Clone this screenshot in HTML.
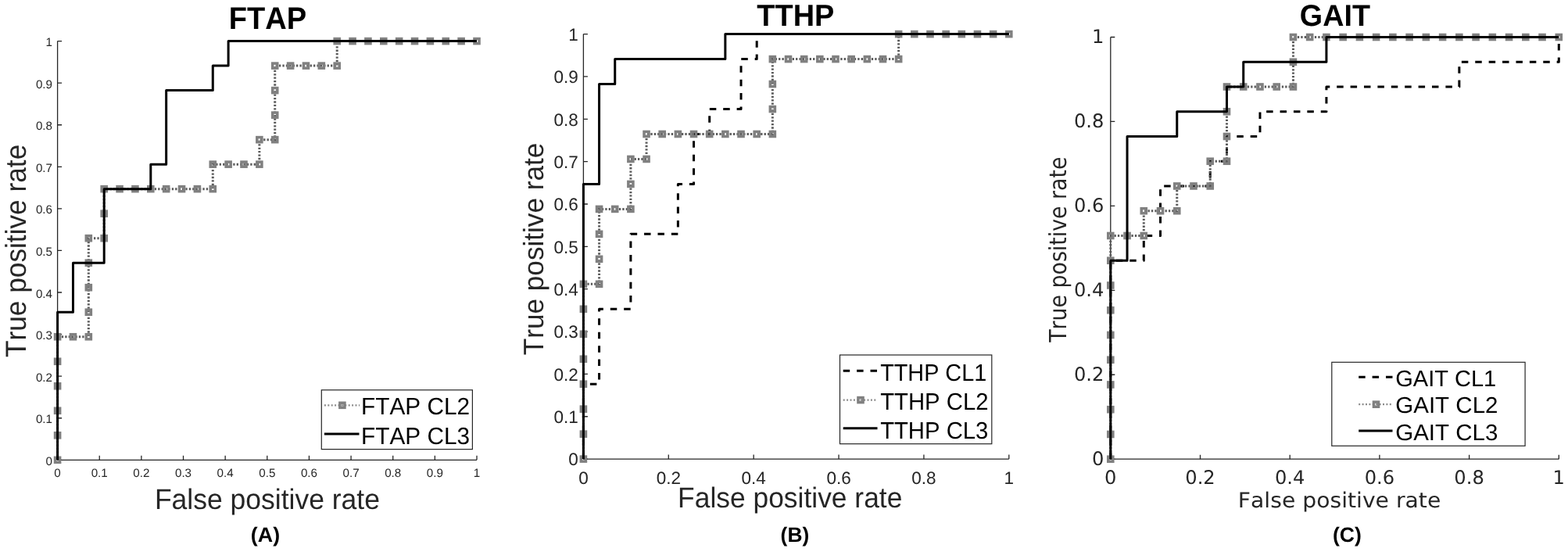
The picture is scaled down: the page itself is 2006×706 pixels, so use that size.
<!DOCTYPE html>
<html><head><meta charset="utf-8"><title>ROC curves</title>
<style>html,body{margin:0;padding:0;background:#fff;}body{width:2006px;height:706px;overflow:hidden;}svg{display:block;}text{font-kerning:none;text-rendering:geometricPrecision;}</style>
</head><body>
<svg width="2006" height="706" viewBox="0 0 2006 706">
<rect width="2006" height="706" fill="#fff"/>
<path d="M73.60 52.60 L73.60 588.30 L610.00 588.30" fill="none" stroke="#262626" stroke-width="1.3"/>
<path d="M73.60 588.30 V582.80 M127.24 588.30 V582.80 M180.88 588.30 V582.80 M234.52 588.30 V582.80 M288.16 588.30 V582.80 M341.80 588.30 V582.80 M395.44 588.30 V582.80 M449.08 588.30 V582.80 M502.72 588.30 V582.80 M556.36 588.30 V582.80 M610.00 588.30 V582.80 M73.60 588.30 H79.10 M73.60 534.73 H79.10 M73.60 481.16 H79.10 M73.60 427.59 H79.10 M73.60 374.02 H79.10 M73.60 320.45 H79.10 M73.60 266.88 H79.10 M73.60 213.31 H79.10 M73.60 159.74 H79.10 M73.60 106.17 H79.10 M73.60 52.60 H79.10" fill="none" stroke="#262626" stroke-width="1.3"/>
<text x="73.60" y="609.80" text-anchor="middle" font-family="'Liberation Sans', Arial, sans-serif" font-weight="normal" font-size="15.2" fill="#262626">0</text>
<text x="127.24" y="609.80" text-anchor="middle" font-family="'Liberation Sans', Arial, sans-serif" font-weight="normal" font-size="15.2" fill="#262626">0.1</text>
<text x="180.88" y="609.80" text-anchor="middle" font-family="'Liberation Sans', Arial, sans-serif" font-weight="normal" font-size="15.2" fill="#262626">0.2</text>
<text x="234.52" y="609.80" text-anchor="middle" font-family="'Liberation Sans', Arial, sans-serif" font-weight="normal" font-size="15.2" fill="#262626">0.3</text>
<text x="288.16" y="609.80" text-anchor="middle" font-family="'Liberation Sans', Arial, sans-serif" font-weight="normal" font-size="15.2" fill="#262626">0.4</text>
<text x="341.80" y="609.80" text-anchor="middle" font-family="'Liberation Sans', Arial, sans-serif" font-weight="normal" font-size="15.2" fill="#262626">0.5</text>
<text x="395.44" y="609.80" text-anchor="middle" font-family="'Liberation Sans', Arial, sans-serif" font-weight="normal" font-size="15.2" fill="#262626">0.6</text>
<text x="449.08" y="609.80" text-anchor="middle" font-family="'Liberation Sans', Arial, sans-serif" font-weight="normal" font-size="15.2" fill="#262626">0.7</text>
<text x="502.72" y="609.80" text-anchor="middle" font-family="'Liberation Sans', Arial, sans-serif" font-weight="normal" font-size="15.2" fill="#262626">0.8</text>
<text x="556.36" y="609.80" text-anchor="middle" font-family="'Liberation Sans', Arial, sans-serif" font-weight="normal" font-size="15.2" fill="#262626">0.9</text>
<text x="610.00" y="609.80" text-anchor="middle" font-family="'Liberation Sans', Arial, sans-serif" font-weight="normal" font-size="15.2" fill="#262626">1</text>
<text x="67.00" y="594.80" text-anchor="end" font-family="'Liberation Sans', Arial, sans-serif" font-weight="normal" font-size="15.2" fill="#262626">0</text>
<text x="67.00" y="541.23" text-anchor="end" font-family="'Liberation Sans', Arial, sans-serif" font-weight="normal" font-size="15.2" fill="#262626">0.1</text>
<text x="67.00" y="487.66" text-anchor="end" font-family="'Liberation Sans', Arial, sans-serif" font-weight="normal" font-size="15.2" fill="#262626">0.2</text>
<text x="67.00" y="434.09" text-anchor="end" font-family="'Liberation Sans', Arial, sans-serif" font-weight="normal" font-size="15.2" fill="#262626">0.3</text>
<text x="67.00" y="380.52" text-anchor="end" font-family="'Liberation Sans', Arial, sans-serif" font-weight="normal" font-size="15.2" fill="#262626">0.4</text>
<text x="67.00" y="326.95" text-anchor="end" font-family="'Liberation Sans', Arial, sans-serif" font-weight="normal" font-size="15.2" fill="#262626">0.5</text>
<text x="67.00" y="273.38" text-anchor="end" font-family="'Liberation Sans', Arial, sans-serif" font-weight="normal" font-size="15.2" fill="#262626">0.6</text>
<text x="67.00" y="219.81" text-anchor="end" font-family="'Liberation Sans', Arial, sans-serif" font-weight="normal" font-size="15.2" fill="#262626">0.7</text>
<text x="67.00" y="166.24" text-anchor="end" font-family="'Liberation Sans', Arial, sans-serif" font-weight="normal" font-size="15.2" fill="#262626">0.8</text>
<text x="67.00" y="112.67" text-anchor="end" font-family="'Liberation Sans', Arial, sans-serif" font-weight="normal" font-size="15.2" fill="#262626">0.9</text>
<text x="67.00" y="59.10" text-anchor="end" font-family="'Liberation Sans', Arial, sans-serif" font-weight="normal" font-size="15.2" fill="#262626">1</text>
<path d="M73.60 588.30 L73.60 556.79 L73.60 525.28 L73.60 493.76 L73.60 462.25 L73.60 430.74 L93.47 430.74 L113.33 430.74 L113.33 399.23 L113.33 367.72 L113.33 336.21 L113.33 304.69 L133.20 304.69 L133.20 273.18 L133.20 241.67 L153.07 241.67 L172.93 241.67 L192.80 241.67 L212.67 241.67 L232.53 241.67 L252.40 241.67 L272.27 241.67 L272.27 210.16 L292.13 210.16 L312.00 210.16 L331.87 210.16 L331.87 178.65 L351.73 178.65 L351.73 147.14 L351.73 115.62 L351.73 84.11 L371.60 84.11 L391.47 84.11 L411.33 84.11 L431.20 84.11 L431.20 52.60 L451.07 52.60 L470.93 52.60 L490.80 52.60 L510.67 52.60 L530.53 52.60 L550.40 52.60 L570.27 52.60 L590.13 52.60 L610.00 52.60" fill="none" stroke="#5a5a5a" stroke-width="3" stroke-dasharray="2.3 2.1"/>
<g fill="none" stroke="#808080" stroke-width="3.5"><rect x="70.55" y="585.25" width="6.1" height="6.1"/><rect x="70.55" y="553.74" width="6.1" height="6.1"/><rect x="70.55" y="522.23" width="6.1" height="6.1"/><rect x="70.55" y="490.71" width="6.1" height="6.1"/><rect x="70.55" y="459.20" width="6.1" height="6.1"/><rect x="70.55" y="427.69" width="6.1" height="6.1"/><rect x="90.42" y="427.69" width="6.1" height="6.1"/><rect x="110.28" y="427.69" width="6.1" height="6.1"/><rect x="110.28" y="396.18" width="6.1" height="6.1"/><rect x="110.28" y="364.67" width="6.1" height="6.1"/><rect x="110.28" y="333.16" width="6.1" height="6.1"/><rect x="110.28" y="301.64" width="6.1" height="6.1"/><rect x="130.15" y="301.64" width="6.1" height="6.1"/><rect x="130.15" y="270.13" width="6.1" height="6.1"/><rect x="130.15" y="238.62" width="6.1" height="6.1"/><rect x="150.02" y="238.62" width="6.1" height="6.1"/><rect x="169.88" y="238.62" width="6.1" height="6.1"/><rect x="189.75" y="238.62" width="6.1" height="6.1"/><rect x="209.62" y="238.62" width="6.1" height="6.1"/><rect x="229.48" y="238.62" width="6.1" height="6.1"/><rect x="249.35" y="238.62" width="6.1" height="6.1"/><rect x="269.22" y="238.62" width="6.1" height="6.1"/><rect x="269.22" y="207.11" width="6.1" height="6.1"/><rect x="289.08" y="207.11" width="6.1" height="6.1"/><rect x="308.95" y="207.11" width="6.1" height="6.1"/><rect x="328.82" y="207.11" width="6.1" height="6.1"/><rect x="328.82" y="175.60" width="6.1" height="6.1"/><rect x="348.68" y="175.60" width="6.1" height="6.1"/><rect x="348.68" y="144.09" width="6.1" height="6.1"/><rect x="348.68" y="112.57" width="6.1" height="6.1"/><rect x="348.68" y="81.06" width="6.1" height="6.1"/><rect x="368.55" y="81.06" width="6.1" height="6.1"/><rect x="388.42" y="81.06" width="6.1" height="6.1"/><rect x="408.28" y="81.06" width="6.1" height="6.1"/><rect x="428.15" y="81.06" width="6.1" height="6.1"/><rect x="428.15" y="49.55" width="6.1" height="6.1"/><rect x="448.02" y="49.55" width="6.1" height="6.1"/><rect x="467.88" y="49.55" width="6.1" height="6.1"/><rect x="487.75" y="49.55" width="6.1" height="6.1"/><rect x="507.62" y="49.55" width="6.1" height="6.1"/><rect x="527.48" y="49.55" width="6.1" height="6.1"/><rect x="547.35" y="49.55" width="6.1" height="6.1"/><rect x="567.22" y="49.55" width="6.1" height="6.1"/><rect x="587.08" y="49.55" width="6.1" height="6.1"/><rect x="606.95" y="49.55" width="6.1" height="6.1"/></g>
<path d="M73.60 588.30 L73.60 399.23 L93.47 399.23 L93.47 336.21 L133.20 336.21 L133.20 241.67 L192.80 241.67 L192.80 210.16 L212.67 210.16 L212.67 115.62 L272.27 115.62 L272.27 84.11 L292.13 84.11 L292.13 52.60 L610.00 52.60" fill="none" stroke="#000" stroke-width="3.0" stroke-linejoin="round" stroke-linecap="butt"/>
<rect x="411.30" y="498.80" width="193.10" height="75.80" fill="#fff" stroke="#262626" stroke-width="1.2"/>
<path d="M414.90 518.30 H460.20" stroke="#8a8a8a" stroke-width="2.2" stroke-dasharray="2 2.4"/>
<rect x="434.85" y="515.25" width="6.1" height="6.1" fill="none" stroke="#808080" stroke-width="3.5"/>
<path d="M414.90 554.90 H459.50" stroke="#000" stroke-width="3"/>
<text transform="translate(462.05 530.10) scale(0.2981 0.3052)" font-family="'Liberation Sans', Arial, sans-serif" font-weight="normal" font-size="100" fill="#000">FTAP CL2</text>
<text transform="translate(462.06 567.60) scale(0.2977 0.3038)" font-family="'Liberation Sans', Arial, sans-serif" font-weight="normal" font-size="100" fill="#000">FTAP CL3</text>
<text transform="translate(292.65 37.20) scale(0.3809 0.4012)" font-family="'Liberation Sans', Arial, sans-serif" font-weight="bold" font-size="100" fill="#000">FTAP</text>
<text transform="translate(197.89 651.40) scale(0.3550 0.3663)" font-family="'Liberation Sans', Arial, sans-serif" font-weight="normal" font-size="100" fill="#262626">False positive rate</text>
<text transform="translate(33.30 457.09) rotate(-90) scale(0.3525 0.3706)" font-family="'Liberation Sans', Arial, sans-serif" font-weight="normal" font-size="100" fill="#262626">True positive rate</text>
<text transform="translate(320.86 693.28) scale(0.2685 0.2661)" font-family="'Liberation Sans', Arial, sans-serif" font-weight="bold" font-size="100" fill="#000">(A)</text>
<path d="M746.40 43.60 L746.40 587.10 L1290.80 587.10" fill="none" stroke="#262626" stroke-width="1.3"/>
<path d="M746.40 587.10 V581.60 M855.28 587.10 V581.60 M964.16 587.10 V581.60 M1073.04 587.10 V581.60 M1181.92 587.10 V581.60 M1290.80 587.10 V581.60 M746.40 587.10 H751.90 M746.40 532.75 H751.90 M746.40 478.40 H751.90 M746.40 424.05 H751.90 M746.40 369.70 H751.90 M746.40 315.35 H751.90 M746.40 261.00 H751.90 M746.40 206.65 H751.90 M746.40 152.30 H751.90 M746.40 97.95 H751.90 M746.40 43.60 H751.90" fill="none" stroke="#262626" stroke-width="1.3"/>
<text x="746.40" y="618.50" text-anchor="middle" font-family="'Liberation Sans', Arial, sans-serif" font-weight="normal" font-size="22.5" fill="#262626">0</text>
<text x="855.28" y="618.50" text-anchor="middle" font-family="'Liberation Sans', Arial, sans-serif" font-weight="normal" font-size="22.5" fill="#262626">0.2</text>
<text x="964.16" y="618.50" text-anchor="middle" font-family="'Liberation Sans', Arial, sans-serif" font-weight="normal" font-size="22.5" fill="#262626">0.4</text>
<text x="1073.04" y="618.50" text-anchor="middle" font-family="'Liberation Sans', Arial, sans-serif" font-weight="normal" font-size="22.5" fill="#262626">0.6</text>
<text x="1181.92" y="618.50" text-anchor="middle" font-family="'Liberation Sans', Arial, sans-serif" font-weight="normal" font-size="22.5" fill="#262626">0.8</text>
<text x="1290.80" y="618.50" text-anchor="middle" font-family="'Liberation Sans', Arial, sans-serif" font-weight="normal" font-size="22.5" fill="#262626">1</text>
<text x="739.80" y="595.35" text-anchor="end" font-family="'Liberation Sans', Arial, sans-serif" font-weight="normal" font-size="22.5" fill="#262626">0</text>
<text x="739.80" y="541.00" text-anchor="end" font-family="'Liberation Sans', Arial, sans-serif" font-weight="normal" font-size="22.5" fill="#262626">0.1</text>
<text x="739.80" y="486.65" text-anchor="end" font-family="'Liberation Sans', Arial, sans-serif" font-weight="normal" font-size="22.5" fill="#262626">0.2</text>
<text x="739.80" y="432.30" text-anchor="end" font-family="'Liberation Sans', Arial, sans-serif" font-weight="normal" font-size="22.5" fill="#262626">0.3</text>
<text x="739.80" y="377.95" text-anchor="end" font-family="'Liberation Sans', Arial, sans-serif" font-weight="normal" font-size="22.5" fill="#262626">0.4</text>
<text x="739.80" y="323.60" text-anchor="end" font-family="'Liberation Sans', Arial, sans-serif" font-weight="normal" font-size="22.5" fill="#262626">0.5</text>
<text x="739.80" y="269.25" text-anchor="end" font-family="'Liberation Sans', Arial, sans-serif" font-weight="normal" font-size="22.5" fill="#262626">0.6</text>
<text x="739.80" y="214.90" text-anchor="end" font-family="'Liberation Sans', Arial, sans-serif" font-weight="normal" font-size="22.5" fill="#262626">0.7</text>
<text x="739.80" y="160.55" text-anchor="end" font-family="'Liberation Sans', Arial, sans-serif" font-weight="normal" font-size="22.5" fill="#262626">0.8</text>
<text x="739.80" y="106.20" text-anchor="end" font-family="'Liberation Sans', Arial, sans-serif" font-weight="normal" font-size="22.5" fill="#262626">0.9</text>
<text x="739.80" y="51.85" text-anchor="end" font-family="'Liberation Sans', Arial, sans-serif" font-weight="normal" font-size="22.5" fill="#262626">1</text>
<path d="M746.40 587.10 L746.40 491.19 L766.56 491.19 L766.56 395.28 L806.89 395.28 L806.89 299.36 L867.38 299.36 L867.38 235.42 L887.54 235.42 L887.54 171.48 L907.70 171.48 L907.70 139.51 L948.03 139.51 L948.03 75.57 L968.19 75.57 L968.19 43.60 L1290.80 43.60" fill="none" stroke="#000" stroke-width="3.0" stroke-linejoin="round" stroke-linecap="butt" stroke-dasharray="8.5 8.9"/>
<path d="M746.40 587.10 L746.40 555.13 L746.40 523.16 L746.40 491.19 L746.40 459.22 L746.40 427.25 L746.40 395.28 L746.40 363.31 L766.56 363.31 L766.56 331.34 L766.56 299.36 L766.56 267.39 L786.73 267.39 L806.89 267.39 L806.89 235.42 L806.89 203.45 L827.05 203.45 L827.05 171.48 L847.21 171.48 L867.38 171.48 L887.54 171.48 L907.70 171.48 L927.87 171.48 L948.03 171.48 L968.19 171.48 L988.36 171.48 L988.36 139.51 L988.36 107.54 L988.36 75.57 L1008.52 75.57 L1028.68 75.57 L1048.84 75.57 L1069.01 75.57 L1089.17 75.57 L1109.33 75.57 L1129.50 75.57 L1149.66 75.57 L1149.66 43.60 L1169.82 43.60 L1189.99 43.60 L1210.15 43.60 L1230.31 43.60 L1250.47 43.60 L1270.64 43.60 L1290.80 43.60" fill="none" stroke="#5a5a5a" stroke-width="3" stroke-dasharray="2.3 2.1"/>
<g fill="none" stroke="#808080" stroke-width="3.5"><rect x="743.35" y="584.05" width="6.1" height="6.1"/><rect x="743.35" y="552.08" width="6.1" height="6.1"/><rect x="743.35" y="520.11" width="6.1" height="6.1"/><rect x="743.35" y="488.14" width="6.1" height="6.1"/><rect x="743.35" y="456.17" width="6.1" height="6.1"/><rect x="743.35" y="424.20" width="6.1" height="6.1"/><rect x="743.35" y="392.23" width="6.1" height="6.1"/><rect x="743.35" y="360.26" width="6.1" height="6.1"/><rect x="763.51" y="360.26" width="6.1" height="6.1"/><rect x="763.51" y="328.29" width="6.1" height="6.1"/><rect x="763.51" y="296.31" width="6.1" height="6.1"/><rect x="763.51" y="264.34" width="6.1" height="6.1"/><rect x="783.68" y="264.34" width="6.1" height="6.1"/><rect x="803.84" y="264.34" width="6.1" height="6.1"/><rect x="803.84" y="232.37" width="6.1" height="6.1"/><rect x="803.84" y="200.40" width="6.1" height="6.1"/><rect x="824.00" y="200.40" width="6.1" height="6.1"/><rect x="824.00" y="168.43" width="6.1" height="6.1"/><rect x="844.16" y="168.43" width="6.1" height="6.1"/><rect x="864.33" y="168.43" width="6.1" height="6.1"/><rect x="884.49" y="168.43" width="6.1" height="6.1"/><rect x="904.65" y="168.43" width="6.1" height="6.1"/><rect x="924.82" y="168.43" width="6.1" height="6.1"/><rect x="944.98" y="168.43" width="6.1" height="6.1"/><rect x="965.14" y="168.43" width="6.1" height="6.1"/><rect x="985.31" y="168.43" width="6.1" height="6.1"/><rect x="985.31" y="136.46" width="6.1" height="6.1"/><rect x="985.31" y="104.49" width="6.1" height="6.1"/><rect x="985.31" y="72.52" width="6.1" height="6.1"/><rect x="1005.47" y="72.52" width="6.1" height="6.1"/><rect x="1025.63" y="72.52" width="6.1" height="6.1"/><rect x="1045.79" y="72.52" width="6.1" height="6.1"/><rect x="1065.96" y="72.52" width="6.1" height="6.1"/><rect x="1086.12" y="72.52" width="6.1" height="6.1"/><rect x="1106.28" y="72.52" width="6.1" height="6.1"/><rect x="1126.45" y="72.52" width="6.1" height="6.1"/><rect x="1146.61" y="72.52" width="6.1" height="6.1"/><rect x="1146.61" y="40.55" width="6.1" height="6.1"/><rect x="1166.77" y="40.55" width="6.1" height="6.1"/><rect x="1186.94" y="40.55" width="6.1" height="6.1"/><rect x="1207.10" y="40.55" width="6.1" height="6.1"/><rect x="1227.26" y="40.55" width="6.1" height="6.1"/><rect x="1247.42" y="40.55" width="6.1" height="6.1"/><rect x="1267.59" y="40.55" width="6.1" height="6.1"/><rect x="1287.75" y="40.55" width="6.1" height="6.1"/></g>
<path d="M746.40 587.10 L746.40 235.42 L766.56 235.42 L766.56 107.54 L786.73 107.54 L786.73 75.57 L927.87 75.57 L927.87 43.60 L1290.80 43.60" fill="none" stroke="#000" stroke-width="3.0" stroke-linejoin="round" stroke-linecap="butt"/>
<rect x="1074.50" y="454.00" width="194.30" height="113.70" fill="#fff" stroke="#262626" stroke-width="1.2"/>
<path d="M1078.70 474.30 H1122.50" stroke="#000" stroke-width="3" stroke-dasharray="8.5 8.9"/>
<path d="M1078.70 511.60 H1122.50" stroke="#8a8a8a" stroke-width="2.2" stroke-dasharray="2 2.4"/>
<rect x="1097.95" y="508.55" width="6.1" height="6.1" fill="none" stroke="#808080" stroke-width="3.5"/>
<path d="M1078.70 547.70 H1122.50" stroke="#000" stroke-width="3"/>
<text transform="translate(1126.15 486.80) scale(0.2881 0.3038)" font-family="'Liberation Sans', Arial, sans-serif" font-weight="normal" font-size="100" fill="#000">TTHP CL1</text>
<text transform="translate(1126.14 523.50) scale(0.2929 0.3038)" font-family="'Liberation Sans', Arial, sans-serif" font-weight="normal" font-size="100" fill="#000">TTHP CL2</text>
<text transform="translate(1126.14 560.60) scale(0.2925 0.3038)" font-family="'Liberation Sans', Arial, sans-serif" font-weight="normal" font-size="100" fill="#000">TTHP CL3</text>
<text transform="translate(968.37 32.90) scale(0.3793 0.3910)" font-family="'Liberation Sans', Arial, sans-serif" font-weight="bold" font-size="100" fill="#000">TTHP</text>
<text transform="translate(867.10 649.40) scale(0.3540 0.3663)" font-family="'Liberation Sans', Arial, sans-serif" font-weight="normal" font-size="100" fill="#262626">False positive rate</text>
<text transform="translate(694.70 454.29) rotate(-90) scale(0.3516 0.3605)" font-family="'Liberation Sans', Arial, sans-serif" font-weight="normal" font-size="100" fill="#262626">True positive rate</text>
<text transform="translate(998.59 693.38) scale(0.2639 0.2661)" font-family="'Liberation Sans', Arial, sans-serif" font-weight="bold" font-size="100" fill="#000">(B)</text>
<path d="M1420.80 47.50 L1420.80 587.20 L1994.30 587.20" fill="none" stroke="#262626" stroke-width="1.3"/>
<path d="M1420.80 587.20 V581.70 M1535.50 587.20 V581.70 M1650.20 587.20 V581.70 M1764.90 587.20 V581.70 M1879.60 587.20 V581.70 M1994.30 587.20 V581.70 M1420.80 587.20 H1426.30 M1420.80 479.26 H1426.30 M1420.80 371.32 H1426.30 M1420.80 263.38 H1426.30 M1420.80 155.44 H1426.30 M1420.80 47.50 H1426.30" fill="none" stroke="#262626" stroke-width="1.3"/>
<text x="1420.80" y="619.20" text-anchor="middle" font-family="'DejaVu Sans', sans-serif" font-weight="normal" font-size="24.2" fill="#262626">0</text>
<text x="1535.50" y="619.20" text-anchor="middle" font-family="'DejaVu Sans', sans-serif" font-weight="normal" font-size="24.2" fill="#262626">0.2</text>
<text x="1650.20" y="619.20" text-anchor="middle" font-family="'DejaVu Sans', sans-serif" font-weight="normal" font-size="24.2" fill="#262626">0.4</text>
<text x="1764.90" y="619.20" text-anchor="middle" font-family="'DejaVu Sans', sans-serif" font-weight="normal" font-size="24.2" fill="#262626">0.6</text>
<text x="1879.60" y="619.20" text-anchor="middle" font-family="'DejaVu Sans', sans-serif" font-weight="normal" font-size="24.2" fill="#262626">0.8</text>
<text x="1994.30" y="619.20" text-anchor="middle" font-family="'DejaVu Sans', sans-serif" font-weight="normal" font-size="24.2" fill="#262626">1</text>
<text x="1412.35" y="594.70" text-anchor="end" font-family="'DejaVu Sans', sans-serif" font-weight="normal" font-size="24.2" fill="#262626">0</text>
<text x="1412.35" y="486.76" text-anchor="end" font-family="'DejaVu Sans', sans-serif" font-weight="normal" font-size="24.2" fill="#262626">0.2</text>
<text x="1412.35" y="378.82" text-anchor="end" font-family="'DejaVu Sans', sans-serif" font-weight="normal" font-size="24.2" fill="#262626">0.4</text>
<text x="1412.35" y="270.88" text-anchor="end" font-family="'DejaVu Sans', sans-serif" font-weight="normal" font-size="24.2" fill="#262626">0.6</text>
<text x="1412.35" y="162.94" text-anchor="end" font-family="'DejaVu Sans', sans-serif" font-weight="normal" font-size="24.2" fill="#262626">0.8</text>
<text x="1412.35" y="55.00" text-anchor="end" font-family="'DejaVu Sans', sans-serif" font-weight="normal" font-size="24.2" fill="#262626">1</text>
<path d="M1420.80 587.20 L1420.80 333.22 L1463.28 333.22 L1463.28 301.48 L1484.52 301.48 L1484.52 237.98 L1548.24 237.98 L1548.24 206.24 L1569.49 206.24 L1569.49 174.49 L1611.97 174.49 L1611.97 142.74 L1696.93 142.74 L1696.93 110.99 L1866.86 110.99 L1866.86 79.25 L1994.30 79.25 L1994.30 47.50" fill="none" stroke="#000" stroke-width="3.0" stroke-linejoin="round" stroke-linecap="butt" stroke-dasharray="8.5 8.9"/>
<path d="M1420.80 587.20 L1420.80 555.45 L1420.80 523.71 L1420.80 491.96 L1420.80 460.21 L1420.80 428.46 L1420.80 396.72 L1420.80 364.97 L1420.80 333.22 L1420.80 301.48 L1442.04 301.48 L1463.28 301.48 L1463.28 269.73 L1484.52 269.73 L1505.76 269.73 L1505.76 237.98 L1527.00 237.98 L1548.24 237.98 L1548.24 206.24 L1569.49 206.24 L1569.49 174.49 L1569.49 142.74 L1569.49 110.99 L1590.73 110.99 L1611.97 110.99 L1633.21 110.99 L1654.45 110.99 L1654.45 79.25 L1654.45 47.50 L1675.69 47.50 L1696.93 47.50 L1718.17 47.50 L1739.41 47.50 L1760.65 47.50 L1781.89 47.50 L1803.13 47.50 L1824.37 47.50 L1845.61 47.50 L1866.86 47.50 L1888.10 47.50 L1909.34 47.50 L1930.58 47.50 L1951.82 47.50 L1973.06 47.50 L1994.30 47.50" fill="none" stroke="#5a5a5a" stroke-width="3" stroke-dasharray="2.3 2.1"/>
<g fill="none" stroke="#808080" stroke-width="3.5"><rect x="1417.75" y="584.15" width="6.1" height="6.1"/><rect x="1417.75" y="552.40" width="6.1" height="6.1"/><rect x="1417.75" y="520.66" width="6.1" height="6.1"/><rect x="1417.75" y="488.91" width="6.1" height="6.1"/><rect x="1417.75" y="457.16" width="6.1" height="6.1"/><rect x="1417.75" y="425.41" width="6.1" height="6.1"/><rect x="1417.75" y="393.67" width="6.1" height="6.1"/><rect x="1417.75" y="361.92" width="6.1" height="6.1"/><rect x="1417.75" y="330.17" width="6.1" height="6.1"/><rect x="1417.75" y="298.43" width="6.1" height="6.1"/><rect x="1438.99" y="298.43" width="6.1" height="6.1"/><rect x="1460.23" y="298.43" width="6.1" height="6.1"/><rect x="1460.23" y="266.68" width="6.1" height="6.1"/><rect x="1481.47" y="266.68" width="6.1" height="6.1"/><rect x="1502.71" y="266.68" width="6.1" height="6.1"/><rect x="1502.71" y="234.93" width="6.1" height="6.1"/><rect x="1523.95" y="234.93" width="6.1" height="6.1"/><rect x="1545.19" y="234.93" width="6.1" height="6.1"/><rect x="1545.19" y="203.19" width="6.1" height="6.1"/><rect x="1566.44" y="203.19" width="6.1" height="6.1"/><rect x="1566.44" y="171.44" width="6.1" height="6.1"/><rect x="1566.44" y="139.69" width="6.1" height="6.1"/><rect x="1566.44" y="107.94" width="6.1" height="6.1"/><rect x="1587.68" y="107.94" width="6.1" height="6.1"/><rect x="1608.92" y="107.94" width="6.1" height="6.1"/><rect x="1630.16" y="107.94" width="6.1" height="6.1"/><rect x="1651.40" y="107.94" width="6.1" height="6.1"/><rect x="1651.40" y="76.20" width="6.1" height="6.1"/><rect x="1651.40" y="44.45" width="6.1" height="6.1"/><rect x="1672.64" y="44.45" width="6.1" height="6.1"/><rect x="1693.88" y="44.45" width="6.1" height="6.1"/><rect x="1715.12" y="44.45" width="6.1" height="6.1"/><rect x="1736.36" y="44.45" width="6.1" height="6.1"/><rect x="1757.60" y="44.45" width="6.1" height="6.1"/><rect x="1778.84" y="44.45" width="6.1" height="6.1"/><rect x="1800.08" y="44.45" width="6.1" height="6.1"/><rect x="1821.32" y="44.45" width="6.1" height="6.1"/><rect x="1842.56" y="44.45" width="6.1" height="6.1"/><rect x="1863.81" y="44.45" width="6.1" height="6.1"/><rect x="1885.05" y="44.45" width="6.1" height="6.1"/><rect x="1906.29" y="44.45" width="6.1" height="6.1"/><rect x="1927.53" y="44.45" width="6.1" height="6.1"/><rect x="1948.77" y="44.45" width="6.1" height="6.1"/><rect x="1970.01" y="44.45" width="6.1" height="6.1"/><rect x="1991.25" y="44.45" width="6.1" height="6.1"/></g>
<path d="M1420.80 587.20 L1420.80 333.22 L1442.04 333.22 L1442.04 174.49 L1505.76 174.49 L1505.76 142.74 L1569.49 142.74 L1569.49 110.99 L1590.73 110.99 L1590.73 79.25 L1696.93 79.25 L1696.93 47.50 L1994.30 47.50" fill="none" stroke="#000" stroke-width="3.0" stroke-linejoin="round" stroke-linecap="butt"/>
<rect x="1703.80" y="463.30" width="247.30" height="107.00" fill="#fff" stroke="#262626" stroke-width="1.2"/>
<path d="M1738.20 482.20 H1781.50" stroke="#000" stroke-width="3" stroke-dasharray="8.5 8.9"/>
<path d="M1738.20 517.20 H1781.50" stroke="#8a8a8a" stroke-width="2.2" stroke-dasharray="2 2.4"/>
<rect x="1757.45" y="514.15" width="6.1" height="6.1" fill="none" stroke="#808080" stroke-width="3.5"/>
<path d="M1738.20 550.90 H1781.50" stroke="#000" stroke-width="3"/>
<text transform="translate(1785.24 493.80) scale(0.2901 0.2892)" font-family="'Liberation Sans', Arial, sans-serif" font-weight="normal" font-size="100" fill="#000">GAIT CL1</text>
<text transform="translate(1785.22 528.30) scale(0.2953 0.2892)" font-family="'Liberation Sans', Arial, sans-serif" font-weight="normal" font-size="100" fill="#000">GAIT CL2</text>
<text transform="translate(1785.22 562.70) scale(0.2948 0.2892)" font-family="'Liberation Sans', Arial, sans-serif" font-weight="normal" font-size="100" fill="#000">GAIT CL3</text>
<text transform="translate(1662.85 32.60) scale(0.3774 0.3866)" font-family="'Liberation Sans', Arial, sans-serif" font-weight="bold" font-size="100" fill="#000">GAIT</text>
<text transform="translate(1583.83 648.60) scale(0.2823 0.2689)" font-family="'DejaVu Sans', sans-serif" font-weight="normal" font-size="100" fill="#262626">False positive rate</text>
<text transform="translate(1363.50 437.82) rotate(-90) scale(0.2678 0.3018)" font-family="'DejaVu Sans', sans-serif" font-weight="normal" font-size="100" fill="#262626">True positive rate</text>
<text transform="translate(1704.98 693.28) scale(0.2654 0.2661)" font-family="'Liberation Sans', Arial, sans-serif" font-weight="bold" font-size="100" fill="#000">(C)</text>
</svg>
</body></html>
